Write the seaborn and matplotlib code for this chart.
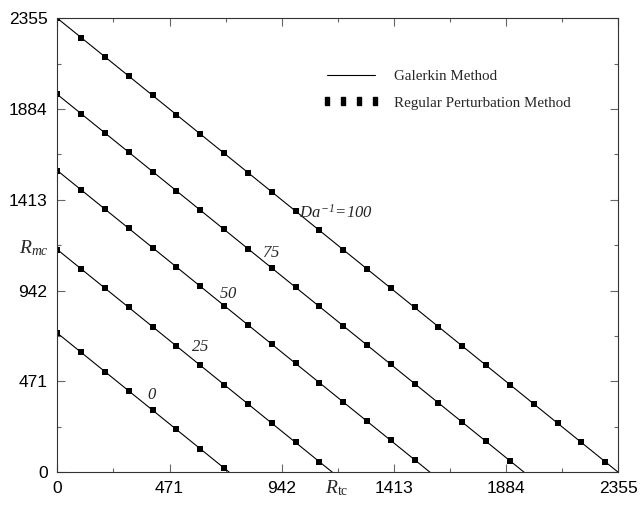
import matplotlib
matplotlib.use("Agg")
import matplotlib.pyplot as plt
from matplotlib.lines import Line2D
from matplotlib.ticker import FixedLocator, MultipleLocator
import numpy as np
import pandas as pd
import seaborn as sns

# ---- data ----
da_inv = [0, 25, 50, 75, 100]                  # Da^-1 values of the curves
intercepts = [722, 1155, 1565, 1960, 2355]     # R_mc at R_tc = 0 (and R_tc at R_mc = 0)
marker_step = 100                              # perturbation points every 100 in R_tc
tick_values = [0, 471, 942, 1413, 1884, 2355]
curve_labels = [r"$0$", r"$25$", r"$50$", r"$75$", r"$Da^{-1}\!=\!100$"]
label_x = [397, 599, 717, 897, 1170]
label_y = [401, 650, 930, 1142, 1350]

# ---- tables ----
line_rows = []
pt_rows = []
for d, c in zip(da_inv, intercepts):
    line_rows.append({"Da": d, "Rtc": 0, "Rmc": c})
    line_rows.append({"Da": d, "Rtc": c, "Rmc": 0})
    for xv in range(0, c + 1, marker_step):
        pt_rows.append({"Da": d, "Rtc": xv, "Rmc": c - xv})
lines_df = pd.DataFrame(line_rows)
pts_df = pd.DataFrame(pt_rows)

sns.set_theme(style="ticks")
plt.rcParams["font.family"] = ["Liberation Sans", "DejaVu Sans"]
plt.rcParams["mathtext.fontset"] = "custom"
plt.rcParams["mathtext.rm"] = "Liberation Serif:italic"
plt.rcParams["mathtext.it"] = "Liberation Serif:italic"
plt.rcParams["mathtext.sf"] = "Liberation Serif"

fig = plt.figure(figsize=(6.42, 5.08), dpi=100)
ax = fig.add_axes([0.0893, 0.0703, 0.8737, 0.8937])

sns.lineplot(data=lines_df, x="Rtc", y="Rmc", units="Da", estimator=None,
             sort=False, color="black", linewidth=0.8, ax=ax, legend=False)
sns.scatterplot(data=pts_df, x="Rtc", y="Rmc", marker="s", color="black",
                s=14, linewidth=0, ax=ax, legend=False)

ax.set_xlim(tick_values[0], tick_values[-1])
ax.set_ylim(tick_values[0], tick_values[-1])
ax.xaxis.set_major_locator(FixedLocator(tick_values))
ax.yaxis.set_major_locator(FixedLocator(tick_values))
ax.xaxis.set_minor_locator(MultipleLocator(tick_values[1] / 2))
ax.yaxis.set_minor_locator(MultipleLocator(tick_values[1] / 2))
ax.set_xticklabels([str(v) for v in tick_values])
ax.set_yticklabels([str(v) for v in tick_values])
ax.tick_params(which="both", direction="in", top=True, right=True,
               color="#666666", width=0.8, labelsize=12.5, labelcolor="black")
ax.tick_params(which="major", length=6)
ax.tick_params(which="minor", length=3)
ax.tick_params(axis="x", which="major", pad=6)
ax.tick_params(axis="y", which="major", pad=7)
for sp in ax.spines.values():
    sp.set_linewidth(0.8)
    sp.set_color("#333333")
    sp.set_visible(True)

ax.set_xlabel("")
ax.set_ylabel("")
ax.text(-0.041, 1163, r"$R_{mc}$", transform=ax.get_yaxis_transform(),
        ha="center", va="center", fontsize=14)
ax.text(1174, -0.036, r"$R_{\mathsf{tc}}$", transform=ax.get_xaxis_transform(),
        ha="center", va="center", fontsize=14)

for lab, lx, ly in zip(curve_labels, label_x, label_y):
    ax.text(lx, ly, lab, ha="center", va="center", fontsize=12)

rect = [(-0.5, -1.0), (0.5, -1.0), (0.5, 1.0), (-0.5, 1.0), (-0.5, -1.0)]
handles = [
    Line2D([], [], color="black", linewidth=0.8, label="Galerkin Method"),
    Line2D([], [], color="black", linestyle="none", marker=rect,
           markersize=6, label="Regular Perturbation Method"),
]
fig.legend(handles=handles, loc="upper left", bbox_to_anchor=(0.49, 0.877),
           frameon=False, numpoints=4, handlelength=3.8, handletextpad=1.0,
           labelspacing=0.85, borderpad=0,
           prop={"family": "Liberation Serif", "size": 10.8})

fig.savefig("out.png", dpi=100)
